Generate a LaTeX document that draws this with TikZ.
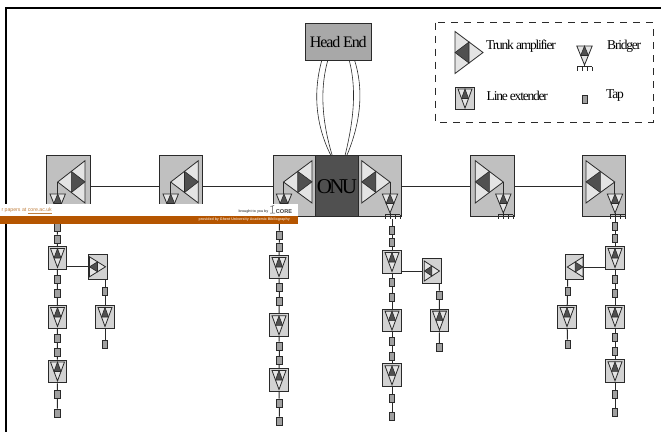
\documentclass[tikz,border=0pt]{standalone}
\usepackage{fontspec}
\setmainfont{Liberation Serif}
\newfontfamily\tightfont[LetterSpace=-7]{Liberation Serif}
\newfontfamily\legfont[LetterSpace=-9]{Liberation Serif}
\newfontfamily\tighterfont[LetterSpace=-13]{Liberation Serif}
\newfontfamily\bannerfont{Liberation Sans}
\usetikzlibrary{calc,backgrounds}
\definecolor{linecol}{HTML}{2A2A2A}
\definecolor{boxgrey}{HTML}{C0C0C0}
\definecolor{legrey}{HTML}{D2D2D2}
\definecolor{heada}{HTML}{A8A8A8}
\definecolor{onugrey}{HTML}{505050}
\definecolor{lightfill}{HTML}{E4E4E4}
\definecolor{tapgrey}{HTML}{A0A0A0}
\definecolor{bannerorange}{HTML}{B55500}
\definecolor{bannertext}{HTML}{C08040}
\tikzset{
  ampbox/.style={draw=linecol,line width=0.9pt,fill=boxgrey,inner sep=0pt,minimum width=#1},
  lebox/.style={draw=linecol,line width=1pt,fill=legrey,inner sep=0pt,minimum width=18.5pt,minimum height=22.7pt},
  smallamp/.style={draw=linecol,line width=1pt,fill=legrey,inner sep=0pt,minimum width=18.6pt,minimum height=24.8pt},
  tapbox/.style={draw=linecol,line width=0.8pt,fill=tapgrey,inner sep=0pt,minimum width=5.2pt,minimum height=8pt},
  wire/.style={draw=linecol,line width=1pt},
  fibre/.style={draw=linecol,line width=0.6pt},
  tri/.style={draw=linecol,line width=0.8pt,fill=lightfill,line join=miter},
  med/.style={draw=linecol,line width=0.6pt,fill=onugrey},
  legtext/.style={font=\legfont\fontsize{13.5}{14}\selectfont,inner sep=0pt,anchor=west},
}
% three corners of a triangle: the middle triangle is dark
\newcommand\triforce[3]{%
  \draw[tri] #1 -- #2 -- #3 -- cycle;
  \draw[med] ($#1!.5!#2$) -- ($#2!.5!#3$) -- ($#3!.5!#1$) -- cycle;
}
% line extender: name, x, centre y
\newcommand\lineext[3]{%
  \node[lebox] (#1) at (#2,#3) {};
  \triforce{(#2-7,#3-9.5)}{(#2+7,#3-9.5)}{(#2,#3+9.5)}
}
\newcommand\taphere[3]{\node[tapbox] (#1) at (#2,#3) {};}
% bridger: coordinate name, apex x, top y, comb left offset
\newcommand\bridger[4]{%
  \triforce{(#2-7.7,#3)}{(#2+7.7,#3)}{(#2,#3+19)}
  \draw[wire,line width=0.7pt] (#2,#3+19) -- (#2,#3+20.5);
  \draw[wire,line width=0.7pt] (#2+#4,#3+20.5) -- (#2+#4+15,#3+20.5);
  \foreach \k in {0,5,10,15} \draw[wire,line width=0.7pt] (#2+#4+\k,#3+20.5) -- (#2+#4+\k,#3+25);
  \coordinate (#1) at (#2+#4,#3+25);
}
\begin{document}
\begin{tikzpicture}[x=1pt,y=-1pt]
\useasboundingbox (0,0) rectangle (661,432);
% frame
\draw[black,line width=2.2pt] (661,7.8) -- (6,7.8) -- (6,432);
% head end and ONU
\node[draw=linecol,line width=0.9pt,fill=heada,minimum width=66.5pt,minimum height=37.7pt,inner sep=0pt,font=\tightfont\fontsize{16}{16}\selectfont] (head) at (338.3,41.8) {Head End};
% big boxes
\node[ampbox=43.3pt,minimum height=61pt] (ampA) at (68.3,186.2) {};
\node[ampbox=43pt,minimum height=61pt] (ampB) at (180.8,186.2) {};
\node[ampbox=42.4pt,minimum height=61pt] (ampC) at (294.5,186.2) {};
\node[ampbox=43pt,minimum height=61pt] (ampD) at (379.5,186.2) {};
\node[ampbox=43.3pt,minimum height=61pt] (ampE) at (492.3,186.2) {};
\node[ampbox=43.4pt,minimum height=61pt] (ampF) at (604,186.2) {};
\node[draw=linecol,line width=0.9pt,fill=onugrey,minimum width=42.3pt,minimum height=61pt,inner sep=0pt,font=\tighterfont\fontsize{21}{21}\selectfont] (onu) at (336.9,186.2) {ONU};
\triforce{(57.7,182)}{(85,160.7)}{(85,203)}
\triforce{(170.7,182)}{(198.3,160.7)}{(198.3,203)}
\triforce{(283.5,182)}{(312,160.7)}{(312,203)}
\triforce{(390,182)}{(361.7,160.7)}{(361.7,203)}
\triforce{(503.3,182)}{(475.3,160.7)}{(475.3,203)}
\triforce{(614.7,182)}{(586,160.7)}{(586,203)}
\draw[wire,line width=0.7pt] (57.7,182) -- (57.7,194);
\draw[wire,line width=0.7pt] (170.7,182) -- (170.7,194);
\draw[wire,line width=0.7pt] (283.5,182) -- (283.5,194);
\draw[wire,line width=0.7pt] (390,182) -- (390,194);
\draw[wire,line width=0.7pt] (503.3,182) -- (503.3,194);
\draw[wire,line width=0.7pt] (614.7,182) -- (614.7,194);
\bridger{brA}{57.7}{194}{-7.5}
\bridger{brB}{170.7}{194}{-7.5}
\bridger{brC}{284}{194}{-5}
\bridger{brD}{390}{194}{-5}
\bridger{brE}{503.3}{194}{-5}
\bridger{brF}{615}{194}{-5}
% column 1
\taphere{a1}{57.3}{227}\taphere{a2}{57.3}{239}
\lineext{a3}{57.5}{258}
\taphere{a4}{57.3}{279.3}\taphere{a5}{57.3}{293.3}
\lineext{a6}{57.5}{317}
\taphere{a7}{57.3}{338.3}\taphere{a8}{57.3}{352.3}
\lineext{a9}{57.5}{371.5}
\taphere{a10}{57.3}{394.3}\taphere{a11}{57.3}{413}
\node[smallamp] (sa) at (97.7,266.8) {};
\triforce{(105.5,266.8)}{(89.5,256.8)}{(89.5,276.8)}
\taphere{sa1}{105}{291.3}
\lineext{sa2}{105}{317}
\taphere{sa3}{105}{344}
% column 3
\taphere{c1}{279.3}{235}\taphere{c2}{279.3}{247}
\lineext{c3}{279}{267}
\taphere{c4}{279.3}{287.3}\taphere{c5}{279.3}{301.7}
\lineext{c6}{279}{325.3}
\taphere{c7}{279.3}{346}\taphere{c8}{279.3}{360.3}
\lineext{c9}{279}{380}
\taphere{c10}{279.3}{403}\taphere{c11}{279.3}{421}
% column 4
\taphere{d1}{392}{230}\taphere{d2}{392}{242.3}
\lineext{d3}{392}{262}
\taphere{d4}{392}{282.7}\taphere{d5}{392}{297.3}
\lineext{d6}{392}{320.6}
\taphere{d7}{392}{341.7}\taphere{d8}{392}{356}
\lineext{d9}{392}{375.3}
\taphere{d10}{392}{398.3}\taphere{d11}{392}{416.7}
\node[smallamp] (sd) at (432,271) {};
\triforce{(439.5,271)}{(424.3,261)}{(424.3,281)}
\taphere{sd1}{439.3}{295}
\lineext{sd2}{439.5}{320.6}
\taphere{sd3}{439.3}{347.7}
% column 6
\taphere{f1}{615}{226}\taphere{f2}{615}{238.3}
\lineext{f3}{615}{258}
\taphere{f4}{615}{279}\taphere{f5}{615}{293}
\lineext{f6}{615}{317}
\taphere{f7}{615}{337.7}\taphere{f8}{615}{351.7}
\lineext{f9}{615}{371.3}
\taphere{f10}{615}{394.3}\taphere{f11}{615}{412.7}
\node[smallamp] (sf) at (574.5,267) {};
\triforce{(567.3,267)}{(583,257)}{(583,277)}
\taphere{sf1}{567.5}{291}
\lineext{sf2}{567}{317}
\taphere{sf3}{567.5}{344}
% connectors
\begin{scope}[on background layer]
\draw[wire] (ampA) -- (ampB);
\draw[wire] (ampB) -- (ampC);
\draw[wire] (ampD) -- (ampE);
\draw[wire] (ampE) -- (ampF);
\draw[wire] (brA -| a1) -- (a1) -- (a2) -- (a3) -- (a4) -- (a5) -- (a6) -- (a7) -- (a8) -- (a9) -- (a10) -- (a11);
\draw[wire] (brC -| c1) -- (c1) -- (c2) -- (c3) -- (c4) -- (c5) -- (c6) -- (c7) -- (c8) -- (c9) -- (c10) -- (c11);
\draw[wire] (brD -| d1) -- (d1) -- (d2) -- (d3) -- (d4) -- (d5) -- (d6) -- (d7) -- (d8) -- (d9) -- (d10) -- (d11);
\draw[wire] (brF -| f1) -- (f1) -- (f2) -- (f3) -- (f4) -- (f5) -- (f6) -- (f7) -- (f8) -- (f9) -- (f10) -- (f11);
\draw[wire] (sa.west) -- (sa.west -| a3);
\draw[wire] (sd.west) -- (sd.west -| d3);
\draw[wire] (sf.east) -- (sf.east -| f3);
\draw[wire] (sa1 |- sa.south) -- (sa1) -- (sa2) -- (sa3);
\draw[wire] (sd1 |- sd.south) -- (sd1) -- (sd2) -- (sd3);
\draw[wire] (sf1 |- sf.south) -- (sf1) -- (sf2) -- (sf3);
\end{scope}
% fibres
\coordinate (hL1) at (321.7,60.7); \coordinate (hL2) at (327.7,60.7);
\coordinate (hR1) at (349.3,60.7); \coordinate (hR2) at (354.7,60.7);
\coordinate (oL1) at (331,155.7); \coordinate (oL2) at (332.3,155.7);
\coordinate (oR1) at (345,155.7); \coordinate (oR2) at (346.7,155.7);
\draw[fibre] (hL1) .. controls (313,92) and (315.5,125) .. (oL1);
\draw[fibre] (hL2) .. controls (319,92) and (323,125) .. (oL2);
\draw[fibre] (hR1) .. controls (357.5,92) and (352.5,125) .. (oR1);
\draw[fibre] (hR2) .. controls (364.5,92) and (359.8,125) .. (oR2);
% legend
\draw[draw=linecol,line width=0.9pt,dash pattern=on 7pt off 6pt] (435.7,22.7) rectangle (653,122);
\triforce{(483,52.5)}{(455,31.5)}{(455,73.5)}
\node[legtext] (lt1) at (486,45.7) {Trunk amplifier};
\bridger{brL}{584.5}{46}{-7.5}
\node[legtext] (lt2) at (607,46) {Bridger};
\lineext{leL}{465}{98.5}
\node[legtext] (lt3) at (486.5,96) {Line extender};
\taphere{tapL}{585}{99}
\node[legtext] (lt4) at (606,96) {Tap};
% banner
\fill[white] (0,203.7) rectangle (297.7,216.2);
\fill[bannerorange] (0,216.2) rectangle (297.7,223.5);
\node[font=\bannerfont\fontsize{5.2}{6}\selectfont,text=bannertext,anchor=east,inner sep=0pt] (b1) at (52,211) {r papers at \underline{core.ac.uk}};
\node[font=\bannerfont\bfseries\fontsize{3.5}{5}\selectfont,text=black!70,anchor=east,inner sep=0pt] (b2) at (268.5,212) {brought to you by};
\draw[black!70,line width=0.5pt] (270.5,206.5) -- (274,205.5) (272.5,206) -- (272.5,212.5) (270,213) -- (275,213);
\node[font=\bannerfont\bfseries\fontsize{5.6}{6}\selectfont,text=black!75,anchor=west,inner sep=0pt] (b3) at (275.7,211.3) {CORE};
\node[font=\bannerfont\bfseries\fontsize{3.6}{5}\selectfont,text=white!75!bannerorange,anchor=east,inner sep=0pt] (b4) at (290,220) {provided by Ghent University Academic Bibliography};
\end{tikzpicture}
\end{document}
